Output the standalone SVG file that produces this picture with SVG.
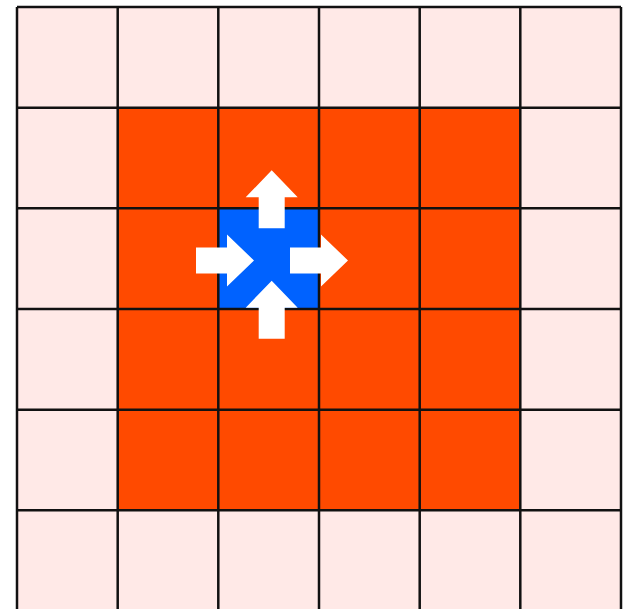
<svg xmlns="http://www.w3.org/2000/svg" width="623" height="609" viewBox="0 0 623 609">
<defs>
<style>
.outer{fill:#FFE9E7}
.inner{fill:#FF4A00}
.center{fill:#0062FF}
.grid{stroke:#111;stroke-width:2.5;fill:none}
.arrow{fill:#fff}
</style>
<path id="arr" d="M0,-13 L31,-13 L31,-26 L58,0 L31,26 L31,13 L0,13 Z"/>
</defs>
<rect width="623" height="609" fill="#fff"/>
<g id="cells">
<rect class="outer" x="17" y="7" width="604" height="604"/>
<rect class="inner" x="117.7" y="107.7" width="402.6" height="402.6"/>
<rect class="center" x="218.3" y="208.3" width="100.7" height="100.7"/>
</g>
<g id="grid" class="grid">
<path d="M17,7V611M117.7,7V611M218.3,7V611M319,7V611M419.7,7V611M520.3,7V611M621,7V611"/>
<path d="M17,7H621M17,107.7H621M17,208.3H621M17,309H621M17,409.7H621M17,510.3H621M17,611H621"/>
</g>
<g id="arrows" class="arrow">
<use href="#arr" transform="translate(271.7,228.3) rotate(-90)"/>
<use href="#arr" transform="translate(271.7,338.7) rotate(-90)"/>
<use href="#arr" transform="translate(196,260.5)"/>
<use href="#arr" transform="translate(290,260.5)"/>
</g>
</svg>
